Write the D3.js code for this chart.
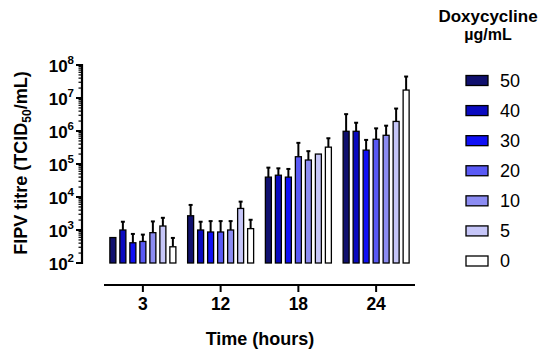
<!DOCTYPE html>
<html>
<head>
<meta charset="utf-8">
<script src="https://cdn.jsdelivr.net/npm/d3@7"></script>
<style>
  html, body { margin: 0; padding: 0; background: #fff; }
  svg { display: block; font-family: "Liberation Sans", Arial, sans-serif; }
</style>
</head>
<body>
<svg id="chart" width="550" height="358"></svg>
<script>
// ---- data ----
const timePoints = ["3", "12", "18", "24"];
const doses = ["50", "40", "30", "20", "10", "5", "0"];
const doseColors = ["#10106e", "#0a0ac0", "#1010f5", "#5a5af5", "#8c8cf2", "#c6c6f8", "#ffffff"];
// mean titre per time point, per dose (order of doses)
const titre3  = [590, 1000, 410, 450, 830, 1320, 310];
const titre12 = [2700, 1000, 870, 870, 1000, 4500, 1100];
const titre18 = [40000, 45700, 40000, 166000, 132000, 200000, 324000];
const titre24 = [980000, 980000, 263000, 562000, 741000, 1950000, 17400000];
// upper error (SD)
const sd3  = [0, 780, 350, 275, 990, 1020, 265];
const sd12 = [3050, 780, 990, 990, 860, 2740, 940];
const sd18 = [37600, 28300, 30800, 271000, 113000, 0, 279000];
const sd24 = [2260000, 800000, 274000, 640000, 709000, 2840000, 27300000];
const yTickExponents = [2, 3, 4, 5, 6, 7, 8];

const means = [titre3, titre12, titre18, titre24];
const sds = [sd3, sd12, sd18, sd24];
const rows = [];
timePoints.forEach((t, i) => doses.forEach((d, j) => rows.push({t, d, j, v: means[i][j], e: sds[i][j]})));

const svg = d3.select("#chart");

const y = d3.scaleLog().domain([1e2, 1e8]).range([263, 65]);
const x = d3.scaleBand().domain(timePoints).range([104, 415]).padding(0);
const xi = d3.scaleBand().domain(doses).range([-35, 35]).paddingInner(0.4).paddingOuter(0.2);

// ---- Y axis ----
const yAxis = svg.append("g");
yAxis.append("line").attr("x1", 82).attr("x2", 82).attr("y1", y(1e8) - 1).attr("y2", y(1e2) + 1)
  .attr("stroke", "#000").attr("stroke-width", 2.2);
const minor = [];
for (let e = 2; e < 8; e++) for (let k = 2; k <= 9; k++) minor.push(k * Math.pow(10, e));
yAxis.selectAll(".minor").data(minor).join("line")
  .attr("x1", 82).attr("x2", 78.5).attr("y1", d => y(d)).attr("y2", d => y(d))
  .attr("stroke", "#000").attr("stroke-width", 1.2);
yAxis.selectAll(".major").data(yTickExponents).join("line")
  .attr("x1", 82).attr("x2", 76).attr("y1", d => y(Math.pow(10, d))).attr("y2", d => y(Math.pow(10, d)))
  .attr("stroke", "#000").attr("stroke-width", 2);
const yl = yAxis.selectAll(".yl").data(yTickExponents).join("text")
  .attr("x", 74).attr("y", d => y(Math.pow(10, d)) + 7)
  .attr("text-anchor", "end").attr("font-weight", "bold").attr("font-size", 17);
yl.append("tspan").text("10");
yl.append("tspan").attr("font-size", 11.5).attr("dy", -8).text(d => d);

// Y title
const yt = svg.append("text").attr("transform", "translate(27,163) rotate(-90)")
  .attr("text-anchor", "middle").attr("font-weight", "bold").attr("font-size", 18);
yt.append("tspan").text("FIPV titre (TCID");
yt.append("tspan").attr("font-size", 12).attr("dy", 4).text("50");
yt.append("tspan").attr("dy", -4).text("/mL)");

// ---- X axis ----
const xAxis = svg.append("g");
xAxis.append("line").attr("x1", 104).attr("x2", 415).attr("y1", 285).attr("y2", 285)
  .attr("stroke", "#000").attr("stroke-width", 2.2);
xAxis.selectAll(".xt").data(timePoints).join("line")
  .attr("x1", d => x(d) + x.bandwidth() / 2).attr("x2", d => x(d) + x.bandwidth() / 2)
  .attr("y1", 285).attr("y2", 292).attr("stroke", "#000").attr("stroke-width", 2);
xAxis.selectAll(".xl").data(timePoints).join("text")
  .attr("x", d => x(d) + x.bandwidth() / 2).attr("y", 310)
  .attr("text-anchor", "middle").attr("font-weight", "bold").attr("font-size", 17.5).text(d => d);
svg.append("text").attr("x", 260).attr("y", 345).attr("text-anchor", "middle")
  .attr("font-weight", "bold").attr("font-size", 18).text("Time (hours)");

// ---- bars ----
const cx = d => x(d.t) + x.bandwidth() / 2 + xi(d.d);
svg.append("g").selectAll("line").data(rows.filter(d => d.e > 0)).join("line")
  .attr("x1", d => cx(d) + xi.bandwidth() / 2).attr("x2", d => cx(d) + xi.bandwidth() / 2)
  .attr("y1", d => y(d.v)).attr("y2", d => y(d.v + d.e))
  .attr("stroke", "#000").attr("stroke-width", 2);
svg.append("g").selectAll("line").data(rows.filter(d => d.e > 0)).join("line")
  .attr("x1", d => cx(d) + xi.bandwidth() / 2 - 2).attr("x2", d => cx(d) + xi.bandwidth() / 2 + 2)
  .attr("y1", d => y(d.v + d.e)).attr("y2", d => y(d.v + d.e))
  .attr("stroke", "#000").attr("stroke-width", 2);
svg.append("g").selectAll("rect").data(rows).join("rect")
  .attr("x", d => cx(d)).attr("width", xi.bandwidth())
  .attr("y", d => y(d.v)).attr("height", d => y(1e2) - y(d.v))
  .attr("fill", d => doseColors[d.j]).attr("stroke", "#000").attr("stroke-width", 1.3);

// ---- legend ----
const lg = svg.append("g");
lg.append("text").attr("x", 488).attr("y", 21.5).attr("text-anchor", "middle")
  .attr("font-weight", "bold").attr("font-size", 17).text("Doxycycline");
lg.append("text").attr("x", 488).attr("y", 40).attr("text-anchor", "middle")
  .attr("font-weight", "bold").attr("font-size", 16).text("µg/mL");
const ly = d3.scalePoint().domain(doses).range([80.5, 261]);
lg.selectAll("rect").data(doses).join("rect")
  .attr("x", 466).attr("y", d => ly(d) - 5).attr("width", 22).attr("height", 10)
  .attr("fill", (d, i) => doseColors[i]).attr("stroke", "#000").attr("stroke-width", 1.3);
lg.selectAll(".lt").data(doses).join("text")
  .attr("x", 500).attr("y", d => ly(d) + 6.3).attr("font-size", 18).text(d => d);
</script>
</body>
</html>
